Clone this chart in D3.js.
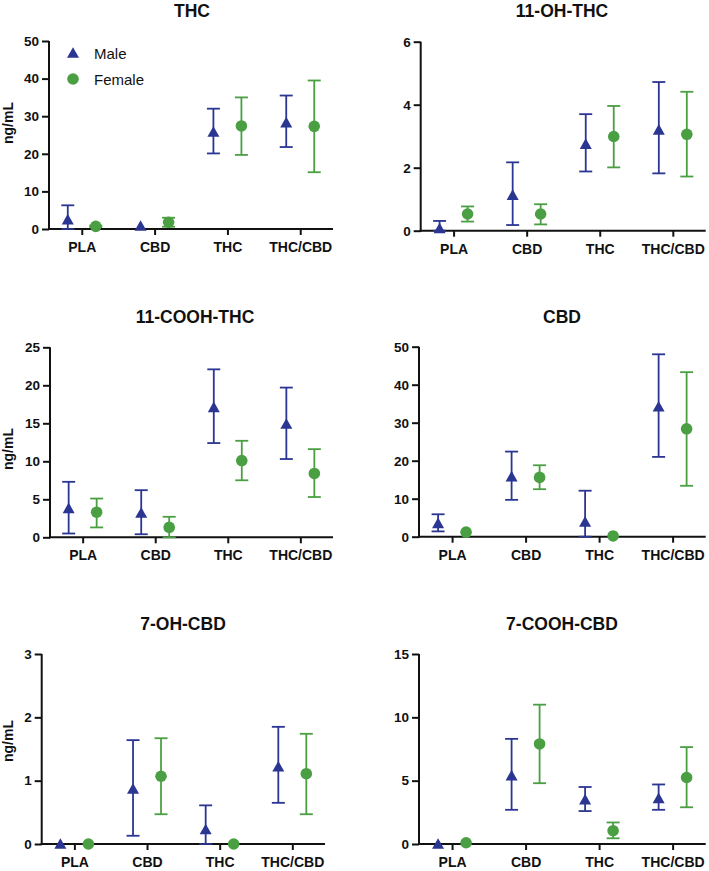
<!DOCTYPE html>
<html>
<head>
<meta charset="utf-8">
<script src="https://cdn.jsdelivr.net/npm/d3@7"></script>
<style>
  html, body { margin: 0; padding: 0; background: #fff; }
  svg { display: block; }
</style>
</head>
<body>
<svg id="chart" width="709" height="871"></svg>
<script>
// ---------- DATA ----------
const categories = ["PLA", "CBD", "THC", "THC/CBD"];
const seriesNames = ["Male", "Female"];
const panelTitles = ["THC", "11-OH-THC", "11-COOH-THC", "CBD", "7-OH-CBD", "7-COOH-CBD"];
const yTickValues = [
  [0, 10, 20, 30, 40, 50],
  [0, 2, 4, 6],
  [0, 5, 10, 15, 20, 25],
  [0, 10, 20, 30, 40, 50],
  [0, 1, 2, 3],
  [0, 5, 10, 15]
];

// THC
const thcMale      = [2.5, 0.8, 25.8, 28.3];
const thcMaleLo    = [0, 0.8, 20.1, 21.8];
const thcMaleHi    = [6.3, 0.8, 32.0, 35.5];
const thcFemale    = [0.7, 1.8, 27.4, 27.3];
const thcFemaleLo  = [0.5, 0.6, 19.7, 15.1];
const thcFemaleHi  = [0.9, 3.0, 35.0, 39.5];

// 11-OH-THC
const ohThcMale     = [0.07, 1.13, 2.75, 3.2];
const ohThcMaleLo   = [0, 0.18, 1.88, 1.82];
const ohThcMaleHi   = [0.31, 2.17, 3.70, 4.72];
const ohThcFemale   = [0.53, 0.53, 2.99, 3.06];
const ohThcFemaleLo = [0.29, 0.2, 2.01, 1.72];
const ohThcFemaleHi = [0.77, 0.84, 3.96, 4.41];

// 11-COOH-THC
const coohThcMale     = [3.8, 3.2, 17.1, 14.9];
const coohThcMaleLo   = [0.5, 0.4, 12.4, 10.3];
const coohThcMaleHi   = [7.3, 6.2, 22.1, 19.7];
const coohThcFemale   = [3.3, 1.3, 10.1, 8.4];
const coohThcFemaleLo = [1.3, 0, 7.5, 5.3];
const coohThcFemaleHi = [5.1, 2.7, 12.7, 11.6];

// CBD
const cbdMale     = [3.5, 15.8, 3.9, 34.2];
const cbdMaleLo   = [1.4, 9.7, 0, 21.0];
const cbdMaleHi   = [5.9, 22.4, 12.1, 48.0];
const cbdFemale   = [1.2, 15.6, 0.2, 28.4];
const cbdFemaleLo = [1.2, 12.5, 0.2, 13.4];
const cbdFemaleHi = [1.2, 18.8, 0.2, 43.3];

// 7-OH-CBD
const ohCbdMale     = [0, 0.87, 0.23, 1.22];
const ohCbdMaleLo   = [0, 0.13, 0, 0.65];
const ohCbdMaleHi   = [0, 1.64, 0.61, 1.85];
const ohCbdFemale   = [0, 1.07, 0, 1.11];
const ohCbdFemaleLo = [0, 0.47, 0, 0.47];
const ohCbdFemaleHi = [0, 1.67, 0, 1.74];

// 7-COOH-CBD
const coohCbdMale     = [0, 5.4, 3.5, 3.6];
const coohCbdMaleLo   = [0, 2.7, 2.6, 2.7];
const coohCbdMaleHi   = [0, 8.3, 4.5, 4.7];
const coohCbdFemale   = [0.1, 7.9, 1.05, 5.25];
const coohCbdFemaleLo = [0.1, 4.8, 0.45, 2.9];
const coohCbdFemaleHi = [0.1, 11.0, 1.7, 7.65];

// ---------- BUILD ----------
const panelData = [
  [[thcMale, thcMaleLo, thcMaleHi], [thcFemale, thcFemaleLo, thcFemaleHi]],
  [[ohThcMale, ohThcMaleLo, ohThcMaleHi], [ohThcFemale, ohThcFemaleLo, ohThcFemaleHi]],
  [[coohThcMale, coohThcMaleLo, coohThcMaleHi], [coohThcFemale, coohThcFemaleLo, coohThcFemaleHi]],
  [[cbdMale, cbdMaleLo, cbdMaleHi], [cbdFemale, cbdFemaleLo, cbdFemaleHi]],
  [[ohCbdMale, ohCbdMaleLo, ohCbdMaleHi], [ohCbdFemale, ohCbdFemaleLo, ohCbdFemaleHi]],
  [[coohCbdMale, coohCbdMaleLo, coohCbdMaleHi], [coohCbdFemale, coohCbdFemaleLo, coohCbdFemaleHi]]
];

// layout (pixel geometry of each panel)
const layout = [
  { x0: 49,    x1: 333,   yTop: 41,    yBot: 229,   tx: 192, ty: 16.5,  ylab: 123, showY: true },
  { x0: 420.7, x1: 705.7, yTop: 41.7,  yBot: 230.7, tx: 562, ty: 16.5,  ylab: null, showY: false },
  { x0: 50,    x1: 333,   yTop: 347.3, yBot: 537.3, tx: 195, ty: 323.3, ylab: 449, showY: true },
  { x0: 419,   x1: 705.7, yTop: 346.7, yBot: 536.7, tx: 562, ty: 323.3, ylab: null, showY: false },
  { x0: 41.7,  x1: 325,   yTop: 654,   yBot: 844,   tx: 183, ty: 630,   ylab: 741, showY: true },
  { x0: 419,   x1: 705.7, yTop: 654,   yBot: 844,   tx: 562, ty: 630,   ylab: null, showY: false }
];

const colors = ["#2b3592", "#4b9f43"];
const offsets = [-14, 14];
const FONT = "'Liberation Sans', Arial, Helvetica, sans-serif";

const svg = d3.select("#chart");

const triPath = "M0,-5.8L6,4.8L-6,4.8Z";
function drawMarker(g, s, x, y) {
  if (s === 0) {
    g.append("path").attr("d", triPath).attr("transform", `translate(${x},${y})`)
      .attr("fill", colors[0]);
  } else {
    g.append("circle").attr("cx", x).attr("cy", y).attr("r", 5.8).attr("fill", colors[1]);
  }
}

layout.forEach((L, p) => {
  const ticks = yTickValues[p];
  const yMax = ticks[ticks.length - 1];
  const y = d3.scaleLinear().domain([0, yMax]).range([L.yBot, L.yTop]);
  const x = d3.scalePoint().domain(categories).range([L.x0, L.x1]).padding(0.45);

  const g = svg.append("g");

  // title
  g.append("text").attr("x", L.tx).attr("y", L.ty)
    .attr("text-anchor", "middle").attr("font-family", FONT)
    .attr("font-weight", "bold").attr("font-size", 17.5).attr("fill", "#111")
    .text(panelTitles[p]);

  // y axis
  const yAxis = d3.axisLeft(y).tickValues(ticks).tickSize(7).tickPadding(3).tickFormat(d3.format("d"));
  const ga = g.append("g").attr("transform", `translate(${L.x0},0)`).call(yAxis);
  ga.select(".domain").attr("d", `M0,${L.yTop}V${L.yBot + 1}`).attr("stroke", "#111").attr("stroke-width", 2);
  ga.selectAll(".tick line").attr("stroke", "#111").attr("stroke-width", 2);
  ga.selectAll(".tick text").attr("font-family", FONT).attr("font-weight", "bold")
    .attr("font-size", 13.5).attr("fill", "#111");

  // x axis
  const xAxis = d3.axisBottom(x).tickSize(6).tickPadding(7);
  const gx = g.append("g").attr("transform", `translate(0,${L.yBot})`).call(xAxis);
  gx.select(".domain").attr("d", `M${L.x0 - 1},0H${L.x1}`).attr("stroke", "#111").attr("stroke-width", 2);
  gx.selectAll(".tick line").attr("stroke", "#111").attr("stroke-width", 2);
  gx.selectAll(".tick text").attr("font-family", FONT).attr("font-weight", "bold")
    .attr("font-size", 14).attr("fill", "#111");

  // y label
  if (L.showY) {
    g.append("text").attr("transform", `translate(13,${L.ylab}) rotate(-90)`)
      .attr("text-anchor", "middle").attr("font-family", FONT)
      .attr("font-weight", "bold").attr("font-size", 14).attr("fill", "#111")
      .text("ng/mL");
  }

  // error bars then markers
  const marks = g.append("g");
  panelData[p].forEach((ser, s) => {
    const [mean, lo, hi] = ser;
    categories.forEach((c, i) => {
      const cx = x(c) + offsets[s];
      if (hi[i] > lo[i]) {
        const eb = marks.append("g").attr("stroke", colors[s]).attr("stroke-width", 1.8).attr("fill", "none");
        eb.append("line").attr("x1", cx).attr("x2", cx).attr("y1", y(lo[i])).attr("y2", y(hi[i]));
        eb.append("line").attr("x1", cx - 6.5).attr("x2", cx + 6.5).attr("y1", y(hi[i])).attr("y2", y(hi[i]));
        eb.append("line").attr("x1", cx - 6.5).attr("x2", cx + 6.5).attr("y1", y(lo[i])).attr("y2", y(lo[i]));
      }
    });
  });
  panelData[p].forEach((ser, s) => {
    const [mean] = ser;
    categories.forEach((c, i) => {
      drawMarker(marks, s, x(c) + offsets[s], y(mean[i]));
    });
  });

  // legend in first panel
  if (p === 0) {
    const lg = g.append("g");
    seriesNames.forEach((name, s) => {
      const ly = 53 + s * 26;
      drawMarker(lg, s, 73, ly);
      lg.append("text").attr("x", 94).attr("y", ly + 5.5)
        .attr("font-family", FONT).attr("font-size", 15).attr("fill", "#111").text(name);
    });
  }
});
</script>
</body>
</html>
